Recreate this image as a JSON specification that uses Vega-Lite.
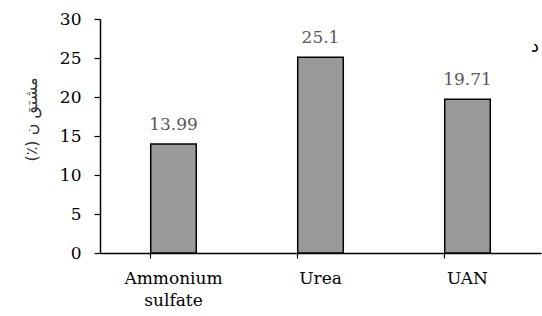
{
  "$schema": "https://vega.github.io/schema/vega-lite/v6.json",
  "width": 441,
  "height": 234,
  "autosize": {"type": "none"},
  "padding": {"left": 100, "top": 19, "right": 1, "bottom": 63},
  "background": "white",
  "config": {"view": {"stroke": null}, "font": "DejaVu Serif"},
  "title": {"text": "د", "anchor": "end", "orient": "top", "frame": "group", "offset": -46, "fontSize": 18, "font": "DejaVu Sans", "fontWeight": "normal", "color": "black", "dx": -2},
  "data": {"values": [
    {"fertilizer": "Ammonium sulfate", "value": 13.99},
    {"fertilizer": "Urea", "value": 25.1},
    {"fertilizer": "UAN", "value": 19.71}
  ]},
  "encoding": {
    "x": {"field": "fertilizer", "type": "nominal", "sort": null,
      "scale": {"paddingInner": 0.69, "paddingOuter": 0.345},
      "axis": {"title": null, "labelAngle": 0, "labelFont": "DejaVu Serif", "labelFontSize": 17, "labelFontWeight": "normal", "labelColor": "black",
        "labelExpr": "split(datum.label, ' ')", "labelLineHeight": 22, "labelPadding": 12,
        "domainColor": "black", "domainWidth": 1.5, "tickColor": "black", "tickSize": 5, "bandPosition": 0, "tickWidth": 1.2}},
    "y": {"field": "value", "type": "quantitative",
      "scale": {"domain": [0, 30]},
      "axis": {"values": [0, 5, 10, 15, 20, 25, 30], "grid": false, "title": "(٪) مشتق ن", "titleFont": "DejaVu Sans", "titleFontSize": 16, "titleFontWeight": "normal", "titleColor": "#333333",
        "titlePadding": 20, "titleY": 100,
        "labelFont": "DejaVu Serif", "labelFontSize": 17, "labelFontWeight": "normal", "labelColor": "black", "labelPadding": 13,
        "domainColor": "black", "domainWidth": 1.5, "tickColor": "black", "tickSize": 6, "tickWidth": 1.2}}
  },
  "layer": [
    {"mark": {"type": "bar", "fill": "#999999", "stroke": "black", "strokeWidth": 1.5}},
    {"mark": {"type": "text", "baseline": "bottom", "dy": -10, "fontSize": 17, "font": "DejaVu Serif", "color": "#595959"},
     "encoding": {"text": {"field": "value", "type": "quantitative"}}}
  ]
}
